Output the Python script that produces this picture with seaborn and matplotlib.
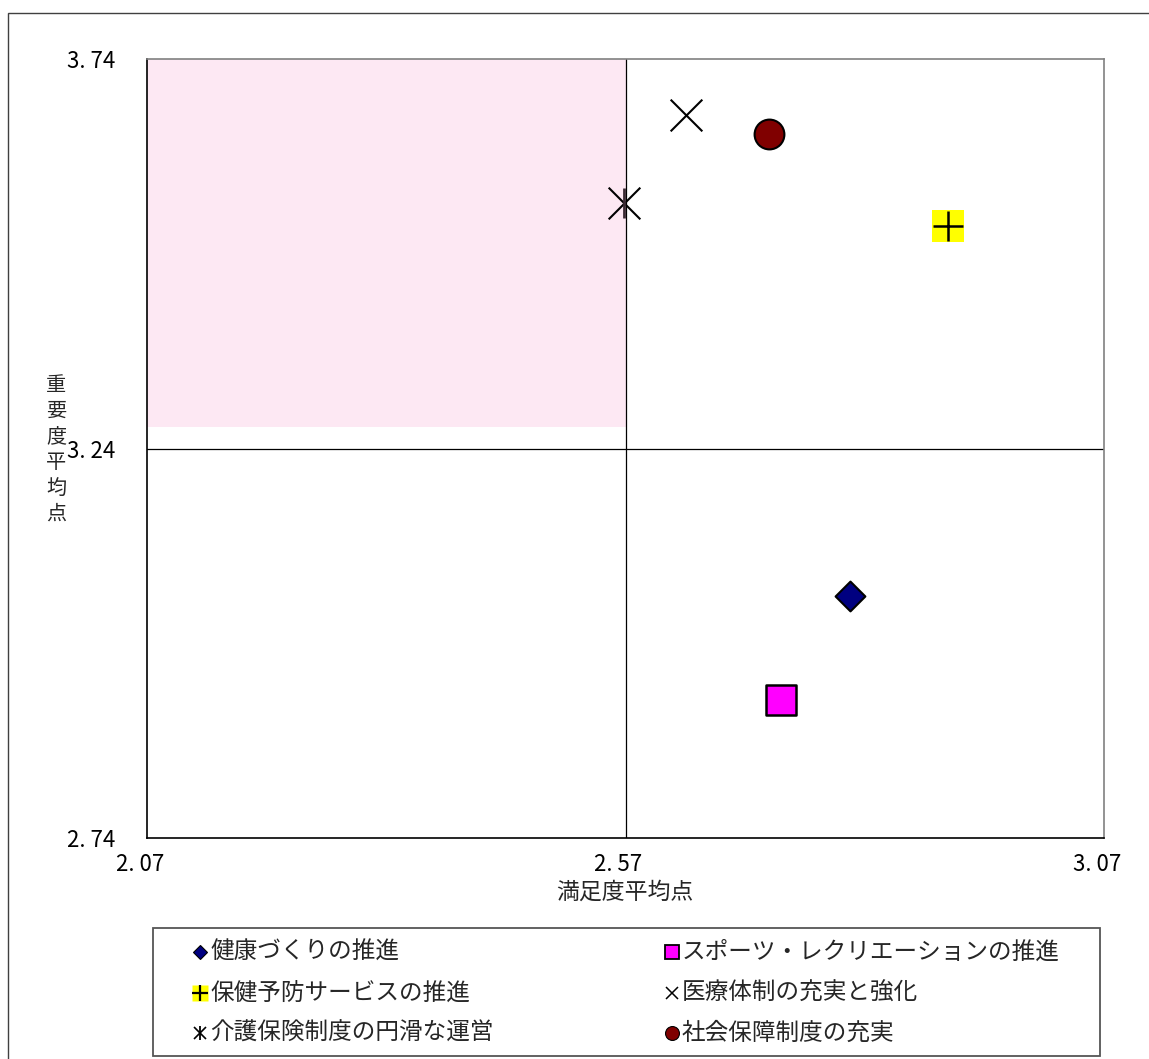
import numpy as np
import pandas as pd
import matplotlib
matplotlib.use("Agg")
import matplotlib.pyplot as plt
import seaborn as sns
from matplotlib.lines import Line2D
from matplotlib.patches import Rectangle
from matplotlib.transforms import ScaledTranslation

sns.set_style("white")
plt.rcParams["font.family"] = ["Noto Sans CJK JP", "DejaVu Sans"]

# data
items = ["健康づくりの推進", "スポーツ・レクリエーションの推進", "保健予防サービスの推進",
         "医療体制の充実と強化", "介護保険制度の円滑な運営", "社会保障制度の充実"]
satisfaction = [2.805, 2.732, 2.907, 2.633, 2.568, 2.720]
importance = [3.051, 2.917, 3.526, 3.668, 3.555, 3.644]
x_ticks = [2.07, 2.57, 3.07]
y_ticks = [2.74, 3.24, 3.74]
x_tick_labels = ["2. 07", "2. 57", "3. 07"]
y_tick_labels = ["2. 74", "3. 24", "3. 74"]
x_mid, y_mid = 2.57, 3.24
pink_bottom = 3.268

df = pd.DataFrame({"item": items, "x": satisfaction, "y": importance})

W, H = 1149, 1059
fig = plt.figure(figsize=(W / 100, H / 100), dpi=100)
ax = fig.add_axes([147 / W, 1 - 838 / H, (1104 - 147) / W, (838 - 59) / H])


def fx(px):
    return px / W


def fy(py):
    return 1 - py / H


# pink quadrant
ax.add_patch(Rectangle((x_ticks[0], pink_bottom), x_mid - x_ticks[0], y_ticks[-1] - pink_bottom,
                       facecolor="#fde8f3", edgecolor="none", zorder=0))
ax.axvline(x_mid, color="black", lw=0.9, zorder=1)
ax.axhline(y_mid, color="black", lw=0.9, zorder=1)

styles = {
    items[0]: dict(marker="D", s=230, color="#000080", edgecolor="black", linewidth=1.5),
    items[1]: dict(marker="s", s=480, color="#ff00ff", edgecolor="black", linewidth=1.8),
    items[3]: dict(marker="x", s=520, color="black", linewidth=1.5),
    items[5]: dict(marker="o", s=460, color="#800000", edgecolor="black", linewidth=1.5),
}
for name, st in styles.items():
    sub = df[df["item"] == name]
    sns.scatterplot(data=sub, x="x", y="y", ax=ax, legend=False, zorder=3, **st)

# yellow plus
sub = df[df["item"] == items[2]]
sns.scatterplot(data=sub, x="x", y="y", ax=ax, legend=False, marker="s", s=520,
                color="#ffff00", edgecolor="none", zorder=3)
sns.scatterplot(data=sub, x="x", y="y", ax=ax, legend=False, marker="+", s=480,
                color="black", linewidth=1.8, zorder=4)
# asterisk
sub = df[df["item"] == items[4]]
sns.scatterplot(data=sub, x="x", y="y", ax=ax, legend=False, marker="x", s=520,
                color="black", linewidth=1.5, zorder=3)
sns.scatterplot(data=sub, x="x", y="y", ax=ax, legend=False, marker="|", s=480,
                color="#3a2a33", linewidth=2.0, zorder=3)

ax.set_xlim(x_ticks[0], x_ticks[-1])
ax.set_ylim(y_ticks[0], y_ticks[-1])
ax.set_xticks(x_ticks)
ax.set_xticklabels(x_tick_labels)
ax.set_yticks(y_ticks)
ax.set_yticklabels(y_tick_labels)
ax.tick_params(axis="both", length=0, labelsize=16, colors="black")
ax.tick_params(axis="x", pad=11)
ax.tick_params(axis="y", pad=23)
shift = ScaledTranslation(-7 / 100, 0, fig.dpi_scale_trans)
for lab in ax.get_xticklabels():
    lab.set_transform(lab.get_transform() + shift)
ax.set_xlabel("")
ax.set_ylabel("")
fig.text(fx(625), fy(892), "満足度平均点", fontsize=16.5, ha="center", va="center")
fig.text(fx(56), fy(450), "\n".join("重要度平均点"), fontsize=14.5, ha="center", va="center",
         linespacing=1.3)

for side in ["left", "bottom"]:
    ax.spines[side].set_color("black")
    ax.spines[side].set_linewidth(1.2)
for side in ["top", "right"]:
    ax.spines[side].set_color("#808080")
    ax.spines[side].set_linewidth(1.2)

# legend box drawn by hand
fig.patches.append(Rectangle((fx(153), fy(1056)), fx(1100) - fx(153), fy(928) - fy(1056),
                             transform=fig.transFigure, fill=False, edgecolor="#555555", linewidth=1.3))
row_y = [952, 993, 1033]
col_x = [200, 672]
leg_items = [
    (0, 0, items[0], [dict(marker="D", ms=7, mfc="#000080", mec="black", mew=0.8)]),
    (0, 1, items[2], [dict(marker="s", ms=11, mfc="#ffff00", mec="none"),
                      dict(marker="+", ms=11, mec="black", mew=1.6)]),
    (0, 2, items[4], [dict(marker="x", ms=9, mec="black", mew=1.2),
                      dict(marker="|", ms=10, mec="black", mew=1.3)]),
    (1, 0, items[1], [dict(marker="s", ms=10, mfc="#ff00ff", mec="black", mew=1.3)]),
    (1, 1, items[3], [dict(marker="x", ms=9, mec="black", mew=1.1)]),
    (1, 2, items[5], [dict(marker="o", ms=10, mfc="#800000", mec="black", mew=0.8)]),
]
for c, r, label, marks in leg_items:
    for m in marks:
        fig.add_artist(Line2D([fx(col_x[c])], [fy(row_y[r])], transform=fig.transFigure,
                              ls="", **m))
    fig.text(fx(col_x[c] + 10), fy(row_y[r]), label, fontsize=17, ha="left", va="center")

# outer border
fig.patches.append(Rectangle((fx(8), -0.01), 1.05, fy(13) + 0.01, transform=fig.transFigure,
                             fill=False, edgecolor="#404040", linewidth=1))

fig.savefig("out.png", dpi=100)
